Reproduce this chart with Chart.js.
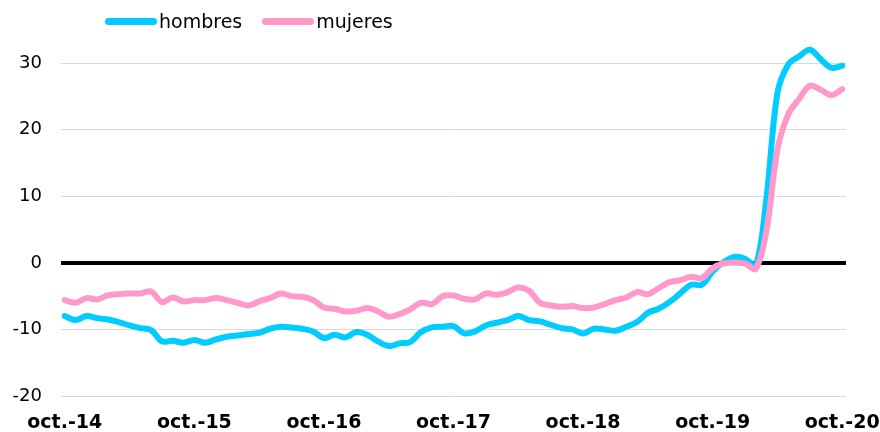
<!DOCTYPE html>
<html>
<head>
<meta charset="utf-8">
<script src="https://cdn.jsdelivr.net/npm/chart.js@4/dist/chart.umd.min.js"></script>
<style>
  html, body { margin: 0; padding: 0; background: #fff; }
  #wrap { position: relative; width: 880px; height: 432px; }
  #legend { position: absolute; top: 10px; left: 105px; font: 19px "DejaVu Sans", sans-serif; color: #000; display: flex; align-items: center; }
  .item { display: flex; align-items: center; margin-right: 20px; }
  .swatch { display: inline-block; width: 52px; height: 7px; border-radius: 4px; margin-right: 2px; }
</style>
</head>
<body>
<div id="wrap">
  <canvas id="chart" width="880" height="432"></canvas>
  <div id="legend"></div>
</div>
<script>
// monthly, oct.-14 .. oct.-20
const xTickLabels = ['oct.-14', 'oct.-15', 'oct.-16', 'oct.-17', 'oct.-18', 'oct.-19', 'oct.-20'];
const seriesNames = ['hombres', 'mujeres'];
const seriesColors = ['#00CCFF', '#FF99CC'];

const hombres = [
  -8.0, -8.6, -8.0, -8.3, -8.5, -8.9, -9.4, -9.8, -10.1, -11.8,
  -11.7, -12.0, -11.6, -12.0, -11.5, -11.1, -10.9, -10.7, -10.5, -9.9,
  -9.6, -9.7, -9.9, -10.3, -11.3, -10.8, -11.2, -10.4, -10.8, -11.8,
  -12.5, -12.1, -11.9, -10.4, -9.7, -9.6, -9.5, -10.6, -10.3, -9.4,
  -9.0, -8.6, -8.0, -8.6, -8.8, -9.3, -9.8, -10.0, -10.6, -9.9,
  -10.0, -10.2, -9.6, -8.9, -7.5, -6.9, -5.9, -4.6, -3.3, -3.3,
  -1.3, 0.1, 0.9, 0.6, -0.4, 10.0, 25.5, 29.8, 31.0, 32.0,
  30.6, 29.3, 29.6
];

const mujeres = [
  -5.6, -6.0, -5.3, -5.5, -4.9, -4.7, -4.6, -4.6, -4.3, -5.9,
  -5.2, -5.8, -5.6, -5.6, -5.3, -5.6, -6.0, -6.4, -5.8, -5.3,
  -4.6, -5.0, -5.1, -5.6, -6.7, -6.9, -7.3, -7.2, -6.8, -7.3,
  -8.1, -7.7, -7.0, -6.0, -6.2, -5.0, -4.9, -5.4, -5.5, -4.6,
  -4.8, -4.4, -3.7, -4.2, -6.0, -6.4, -6.6, -6.5, -6.8, -6.7,
  -6.2, -5.6, -5.2, -4.4, -4.7, -3.8, -2.9, -2.6, -2.1, -2.3,
  -0.8, -0.1, 0.0, -0.1, -0.9, 5.0, 17.0, 22.3, 24.6, 26.6,
  26.0, 25.2, 26.1
];

const yTicks = [-20, -10, 0, 10, 20, 30];
const monthsPerTick = 12;

const toPoints = arr => arr.map((v, i) => ({ x: i, y: v }));

// html legend
const legendEl = document.getElementById('legend');
seriesNames.forEach((name, i) => {
  const item = document.createElement('span');
  item.className = 'item';
  const sw = document.createElement('span');
  sw.className = 'swatch';
  sw.style.background = seriesColors[i];
  item.appendChild(sw);
  item.appendChild(document.createTextNode(name));
  legendEl.appendChild(item);
});

const lineStyle = {
  borderWidth: 6,
  pointRadius: 0,
  tension: 0.35,
  borderCapStyle: 'round',
  borderJoinStyle: 'round',
  fill: false
};

new Chart(document.getElementById('chart'), {
  type: 'line',
  data: {
    datasets: [
      { label: seriesNames[0], data: toPoints(hombres), borderColor: seriesColors[0], backgroundColor: seriesColors[0], order: 1, ...lineStyle },
      { label: seriesNames[1], data: toPoints(mujeres), borderColor: seriesColors[1], backgroundColor: seriesColors[1], order: 0, ...lineStyle }
    ]
  },
  options: {
    responsive: false,
    animation: false,
    layout: { padding: { top: 25, right: 0, left: 0, bottom: 0 } },
    plugins: { legend: { display: false }, tooltip: { enabled: false } },
    scales: {
      x: {
        type: 'linear',
        min: -0.35,
        max: 72.35,
        afterBuildTicks: s => { s.ticks = xTickLabels.map((_, i) => ({ value: i * monthsPerTick })); },
        afterFit: s => { s.height = 36; s.paddingRight = 34; s.paddingLeft = 0; },
        grid: { display: false, drawTicks: false },
        border: { display: false },
        ticks: {
          autoSkip: false,
          maxRotation: 0,
          padding: 16,
          color: '#000',
          font: { family: 'DejaVu Sans', size: 19, weight: 'bold' },
          callback: v => xTickLabels[v / monthsPerTick]
        }
      },
      y: {
        min: -20,
        max: 35,
        afterBuildTicks: s => { s.ticks = yTicks.map(v => ({ value: v })); },
        afterFit: s => { s.width = 61; },
        grid: {
          drawTicks: false,
          color: c => c.tick && c.tick.value === 0 ? '#000' : '#d9d9d9',
          lineWidth: c => c.tick && c.tick.value === 0 ? 4 : 1
        },
        border: { display: false },
        ticks: {
          padding: 19,
          color: '#000',
          font: { family: 'DejaVu Sans', size: 18 }
        }
      }
    }
  }
});
</script>
</body>
</html>
